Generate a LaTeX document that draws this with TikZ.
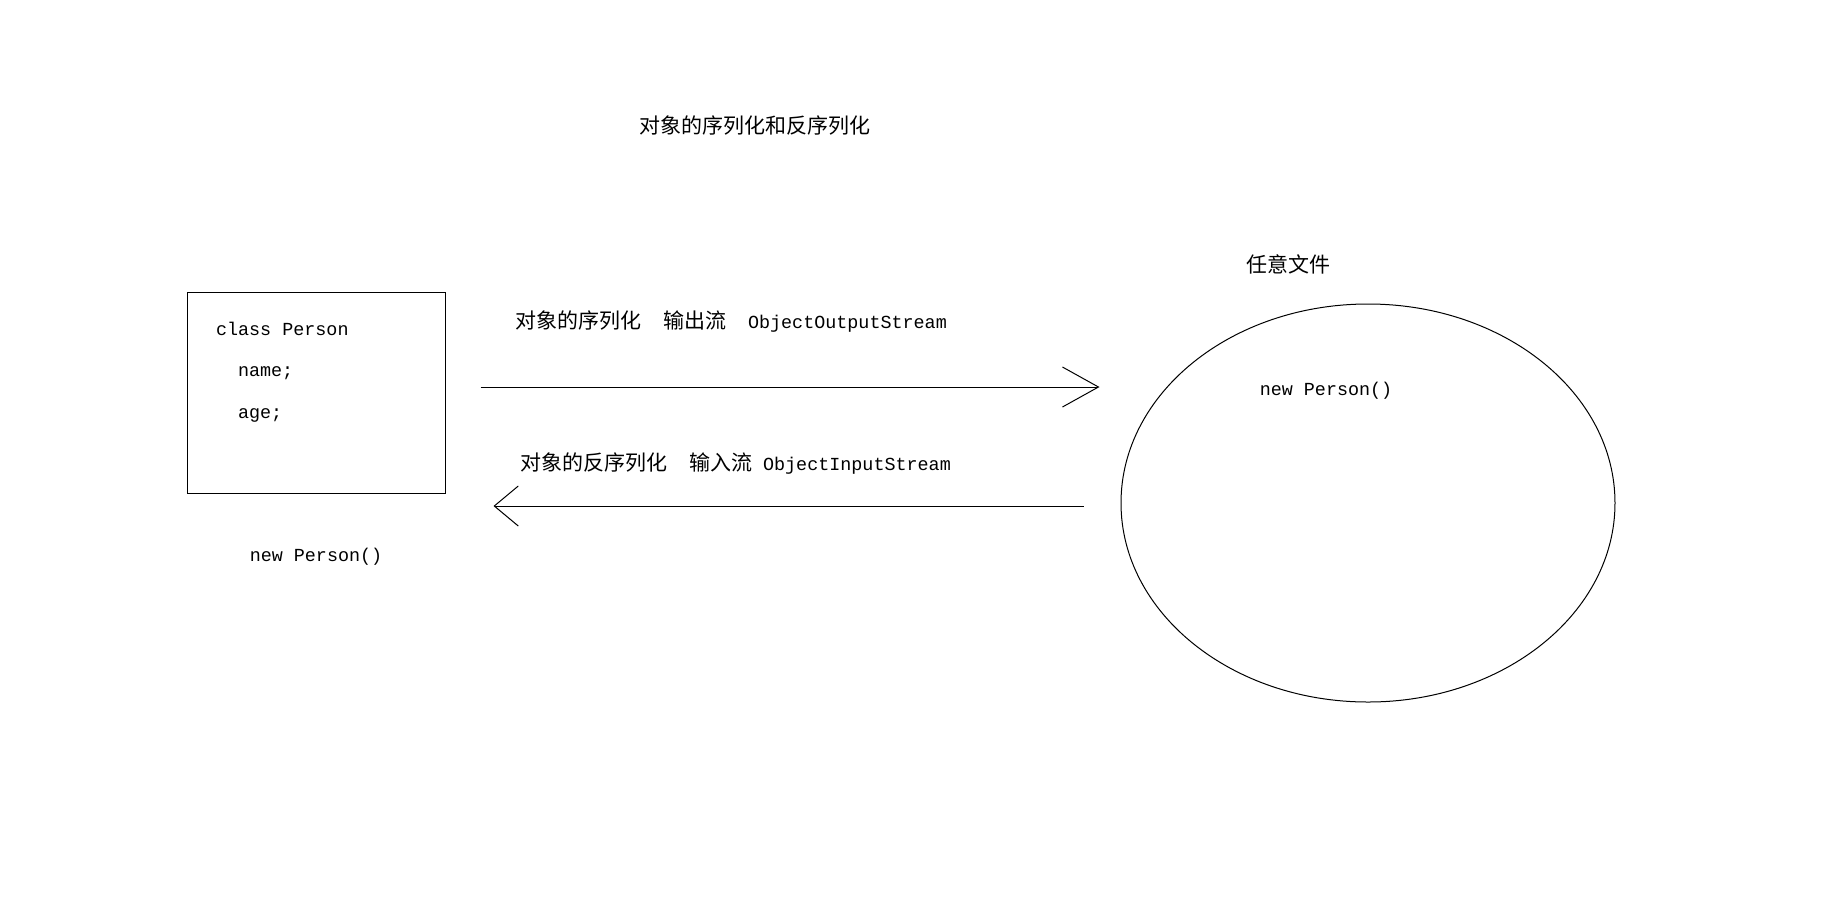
\documentclass[tikz,border=0pt]{standalone}
\usepackage{fontspec}
\setmonofont{Liberation Mono}
\newfontfamily\cjk{Noto Sans CJK SC}
\usepackage{tikz}
\usetikzlibrary{shapes.geometric, arrows.meta, positioning}
\newcommand{\zh}[1]{{\cjk\fontsize{10.5}{12}\selectfont #1}}
\tikzset{
  classbox/.style={rectangle, draw, line width=0.5pt, inner sep=0pt,
                   minimum width=129pt, minimum height=100.5pt},
  filebox/.style={ellipse, draw, line width=0.5pt, inner sep=0pt,
                  minimum width=247pt, minimum height=199pt},
  code/.style={font=\ttfamily\fontsize{9.2}{11}\selectfont},
  hanzi/.style={font=\cjk\fontsize{10.5}{12}\selectfont},
  flow/.style={line width=0.5pt},
  outtip/.style={-{Straight Barb[length=18pt, width=20pt, line width=0.5pt]}},
  intip/.style={-{Straight Barb[length=12pt, width=20pt, line width=0.5pt]}},
}

\begin{document}
\begin{tikzpicture}[x=0.5pt, y=-0.5pt]
  \useasboundingbox (0,0) rectangle (1848,906);

  \node[hanzi] (title) at (755,126) {对象的序列化和反序列化};

  % class on the left
  \node[classbox] (cls) at (316,392.5) {};
  \node[code, anchor=west] (cname) at (209,329) {class Person};
  \node[code, anchor=west] (fname) at (231,373) {name;};
  \node[code, anchor=west] (fage)  at (231,415) {age;};
  \node[code, below=24pt of cls] (objl) {new Person()};

  % file on the right
  \node[filebox] (file) at (1368,503) {};
  \node[hanzi] (fname2) at (1288,264) {任意文件};
  \node[code] (objr) at (1326,391) {new Person()};

  % labels
  \node[code, anchor=west] (outl) at (508,322)
    {\zh{对象的序列化}\hspace{11pt}\zh{输出流}\hspace{11pt}ObjectOutputStream};
  \node[code, anchor=west] (inl) at (513,464)
    {\zh{对象的反序列化}\hspace{11pt}\zh{输入流} ObjectInputStream};

  \draw[flow, outtip, shorten <=17.5pt, shorten >=10.5pt]
    (cls.east |- 0,387) -- (file.west |- 0,387);
  \draw[flow, intip, shorten <=18.5pt, shorten >=24pt]
    (file.west |- 0,506) -- (cls.east |- 0,506);
\end{tikzpicture}
\end{document}
